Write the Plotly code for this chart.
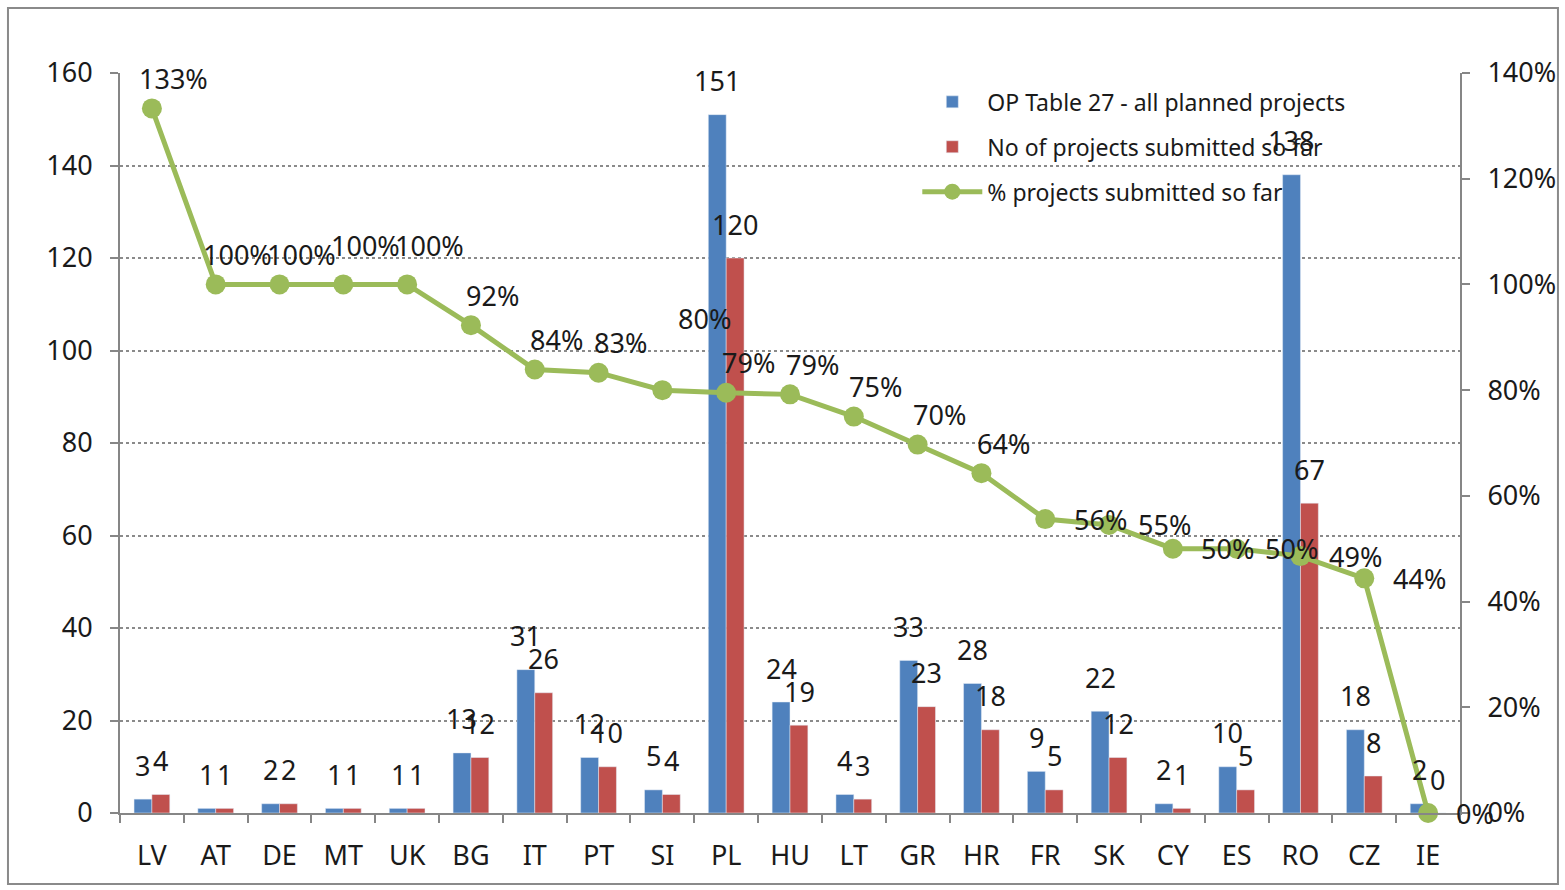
import plotly.graph_objects as go

categories = ["LV", "AT", "DE", "MT", "UK", "BG", "IT", "PT", "SI", "PL", "HU",
              "LT", "GR", "HR", "FR", "SK", "CY", "ES", "RO", "CZ", "IE"]
planned = [3, 1, 2, 1, 1, 13, 31, 12, 5, 151, 24, 4, 33, 28, 9, 22, 2, 10, 138, 18, 2]
submitted = [4, 1, 2, 1, 1, 12, 26, 10, 4, 120, 19, 3, 23, 18, 5, 12, 1, 5, 67, 8, 0]
pct = [1.333, 1.0, 1.0, 1.0, 1.0, 0.923, 0.839, 0.833, 0.80, 0.795, 0.792,
       0.75, 0.697, 0.643, 0.556, 0.545, 0.50, 0.50, 0.486, 0.444, 0.0]
pct_labels = ["133%", "100%", "100%", "100%", "100%", "92%", "84%", "83%", "80%",
              "79%", "79%", "75%", "70%", "64%", "56%", "55%", "50%", "50%",
              "49%", "44%", "0%"]

FONT = "Noto Sans"
BLUE = "#4F81BD"
RED = "#C0504D"
GREEN = "#9BBB59"
AXIS = "#868686"
TXT = "#1a1a1a"
LBL = 27

fig = go.Figure()
fig.add_trace(go.Bar(
    x=categories, y=planned, name="OP Table 27 - all planned projects",
    marker_color=BLUE, legendgroup="a",
))
fig.add_trace(go.Bar(
    x=categories, y=submitted, name="No of projects submitted so far",
    marker_color=RED, legendgroup="b",
))
fig.add_trace(go.Scatter(
    x=categories, y=pct, name="% projects submitted so far", yaxis="y2",
    mode="lines+markers", line=dict(color=GREEN, width=5),
    marker=dict(color=GREEN, size=20), legendgroup="c", cliponaxis=False,
))

annotations = []
half_bar = 9
for c, v in zip(categories, planned):
    annotations.append(dict(x=c, y=v, xref="x", yref="y", text=str(v),
                            showarrow=False, xshift=-half_bar, yshift=34,
                            font=dict(family=FONT, size=LBL, color=TXT)))
for c, v in zip(categories, submitted):
    annotations.append(dict(x=c, y=v, xref="x", yref="y", text=str(v),
                            showarrow=False, xshift=half_bar, yshift=34,
                            font=dict(family=FONT, size=LBL, color=TXT)))
for i, (c, v, t) in enumerate(zip(categories, pct, pct_labels)):
    if i < 14:
        dx, dy = 22, 30
        if c == "SI":
            dx, dy = 42, 72
        if c in ("MT", "UK"):
            dy = 39
    else:
        dx, dy = 55, 0
        if c == "IE":
            dx = 47
    annotations.append(dict(x=c, y=v, xref="x", yref="y2", text=t,
                            showarrow=False, xshift=dx, yshift=dy,
                            font=dict(family=FONT, size=LBL, color=TXT)))

fig.update_layout(
    width=1565, height=890,
    margin=dict(l=120, r=105, t=73, b=77, autoexpand=False),
    paper_bgcolor="white", plot_bgcolor="white",
    barmode="group", bargap=0.44, bargroupgap=0,
    font=dict(family=FONT, size=LBL, color=TXT),
    showlegend=True,
    legend=dict(x=0.595, y=0.99, xanchor="left", yanchor="top",
                bgcolor="rgba(0,0,0,0)", font=dict(family=FONT, size=23),
                itemwidth=60, traceorder="grouped", tracegroupgap=12),
    xaxis=dict(type="category", range=[-0.5, len(categories) - 0.5],
               showline=True, linecolor=AXIS, linewidth=2,
               ticks="outside", tickson="boundaries", ticklen=8, tickcolor=AXIS,
               tickwidth=2, ticklabelstandoff=18, showgrid=False, automargin=False,
               tickfont=dict(family=FONT, size=LBL)),
    yaxis=dict(range=[0, 160], dtick=20, showline=True, linecolor=AXIS, linewidth=2,
               ticks="outside", ticklen=8, tickcolor=AXIS, tickwidth=2,
               ticklabelstandoff=12, showgrid=True, gridcolor="#8a8a8a",
               griddash="dot", gridwidth=1.5, zeroline=False, automargin=False,
               tickfont=dict(family=FONT, size=LBL)),
    yaxis2=dict(range=[0, 1.4], dtick=0.2, tickformat=".0%", overlaying="y",
                side="right", showline=True, linecolor=AXIS, linewidth=2,
                ticks="outside", ticklen=8, tickcolor=AXIS, tickwidth=2,
                ticklabelstandoff=12, showgrid=False, zeroline=False,
                automargin=False, tickfont=dict(family=FONT, size=LBL)),
    annotations=annotations,
    shapes=[dict(type="rect", xref="paper", yref="paper",
                 x0=-0.0836, x1=1.0731, y0=-0.0959, y1=1.0878,
                 line=dict(color="#8a8a8a", width=2), fillcolor="rgba(0,0,0,0)",
                 layer="below")],
)

fig.write_html("out.html", config={"displayModeBar": False},
               post_script="document.body.style.margin='0';document.body.style.padding='0';")
